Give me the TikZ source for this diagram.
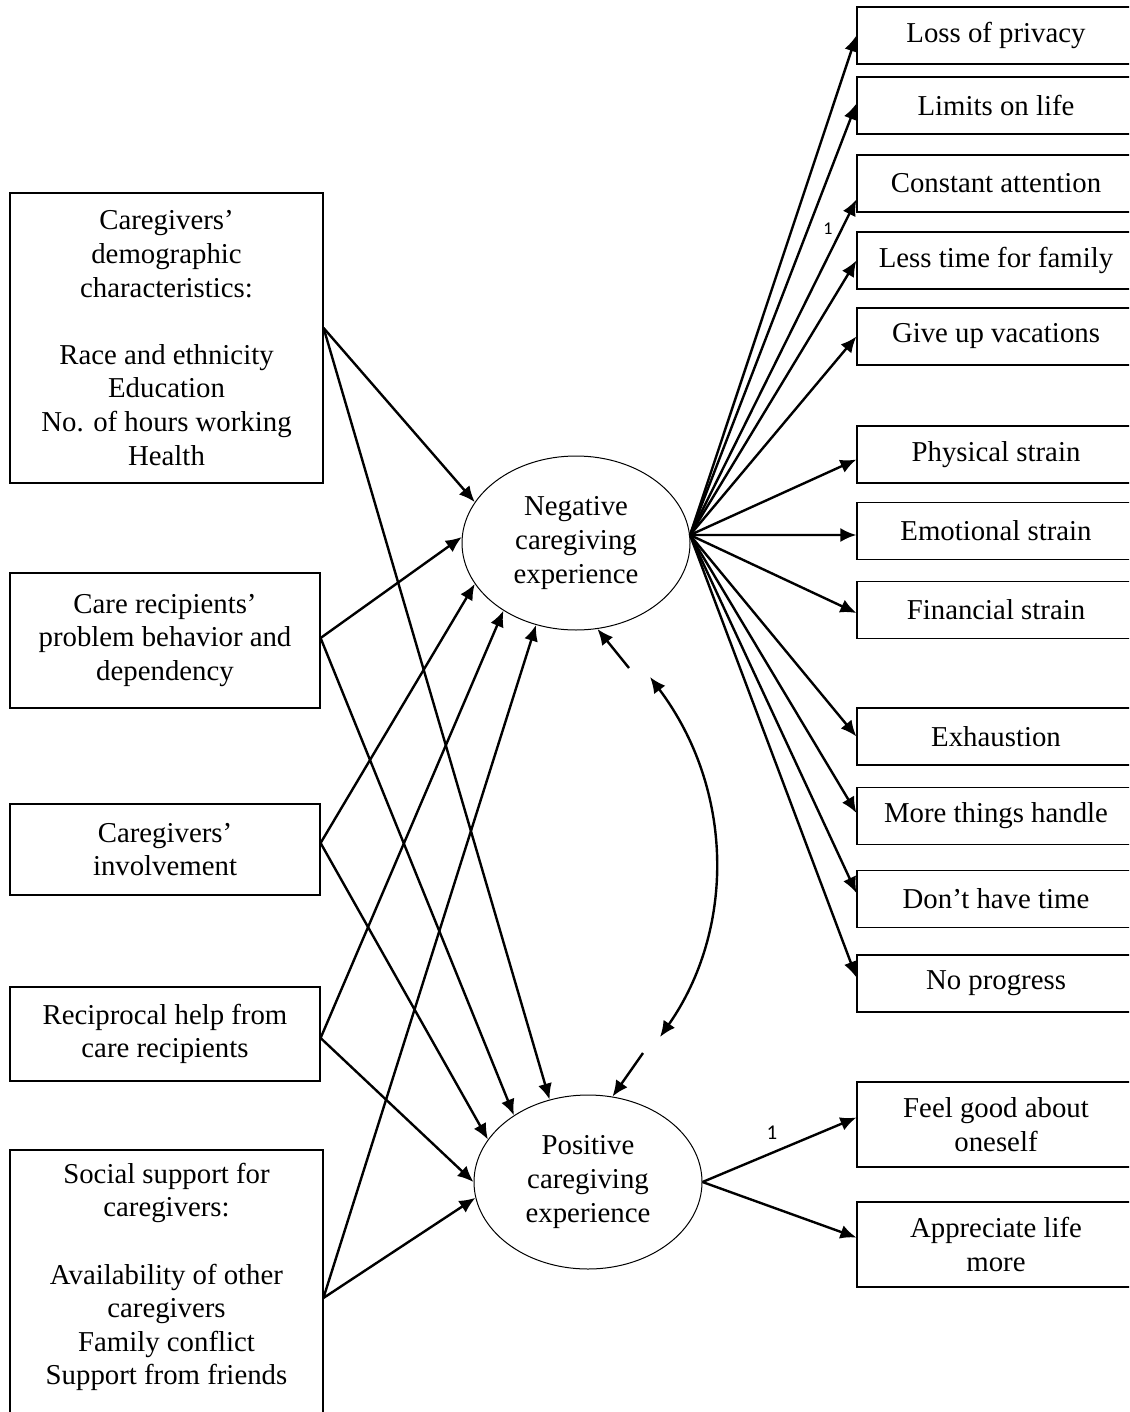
\documentclass[tikz,border=0pt]{standalone}
\usepackage{fontspec}
\setmainfont{Liberation Serif}
\newfontfamily\numfont{Carlito}
\usetikzlibrary{arrows.meta,shapes.geometric,calc}
\begin{document}
\begin{tikzpicture}[x=0.5pt,y=-0.5pt,
  every node/.style={font=\fontsize{14.4}{16.8}\selectfont},
  srcbox/.style={draw, line width=0.6pt, align=center, inner sep=0pt, minimum width=155pt},
  txtbox/.style={align=center, inner sep=0pt, minimum width=156.5pt},
  indbox/.style={draw, line width=0.6pt, align=center, inner sep=0pt, minimum width=139pt, minimum height=28.5pt},
  latent/.style={draw, ellipse, line width=0.5pt, align=center, inner sep=0pt, minimum width=114pt, minimum height=87pt},
  arr/.style={-{Latex[length=8pt,width=7pt]}, line width=1.2pt},
  darr/.style={{Latex[length=8pt,width=7pt]}-{Latex[length=8pt,width=7pt]}, line width=1.2pt},
  numlab/.style={inner sep=0pt}
]
\useasboundingbox (0,0) rectangle (1129,1412);
\clip (0,0) rectangle (1129,1412);
\fill[white] (0,0) rectangle (1129,1412);

% latent variables
\node[latent] (neg) at (576,543) {Negative\\caregiving\\experience};
\node[latent] (pos) at (588,1182) {Positive\\caregiving\\experience};

% left boxes
\node[srcbox, minimum width=156.5pt, minimum height=145pt] (b1) at (166.5,338)
  {Caregivers’\\demographic\\characteristics:\\[16.8pt]Race and ethnicity\\Education\\No. of hours working\\Health};
\node[srcbox, minimum height=67.5pt] (b2) at (165,640.5)
  {Care recipients’\\problem behavior and\\dependency};
\node[srcbox, minimum height=45.5pt] (b3) at (165,849.5)
  {Caregivers’\\involvement};
\node[srcbox, minimum height=47pt] (b4) at (165,1034)
  {Reciprocal help from\\care recipients};
\node[txtbox] (b5) at (166.5,1277)
  {Social support for\\caregivers:\\[16.8pt]Availability of other\\caregivers\\Family conflict\\Support from friends};
\draw[line width=0.6pt] (10,1440) -- (10,1150) -- (323,1150) -- (323,1440);

% right boxes
\node[indbox] (r1) at (996,35.5) {Loss of privacy};
\node[indbox] (r2) at (996,105.5) {Limits on life};
\node[indbox] (r3) at (996,183.5) {Constant attention};
\node[indbox] (r4) at (996,260.5) {Less time for family};
\node[indbox] (r5) at (996,336.5) {Give up vacations};
\node[indbox] (r6) at (996,454.5) {Physical strain};
\node[indbox] (r7) at (996,531) {Emotional strain};
\node[indbox] (r8) at (996,610) {Financial strain};
\node[indbox] (r9) at (996,736.5) {Exhaustion};
\node[indbox] (r10) at (996,816) {More things handle};
\node[indbox] (r11) at (996,899) {Don’t have time};
\node[indbox] (r12) at (996,983.5) {No progress};
\node[indbox, minimum height=42.5pt] (p1) at (996,1124.5) {Feel good about\\oneself};
\node[indbox, minimum height=42.5pt] (p2) at (996,1244.5) {Appreciate life\\more};

% source points on left boxes
\coordinate (s1) at (b1.east |- 0,328);
\coordinate (s2) at (b2.east |- 0,638);
\coordinate (s3) at (b3.east |- 0,843);
\coordinate (s4) at (b4.east |- 0,1038);
\coordinate (s5) at (b5.east |- 0,1298);

% paths to negative
\draw[arr] (s1) -- (neg.158.3);
\draw[arr] (s2) -- (neg.177);
\draw[arr] (s3) -- (neg.202.9);
\draw[arr] (s4) -- (neg.223.9);
\draw[arr] (s5) -- (neg.244.7);
% paths to positive
\draw[arr] (s1) -- (pos.115.2);
\draw[arr] (s2) -- (pos.138.6);
\draw[arr] (s3) -- (pos.157.4);
\draw[arr] (s4) -- (pos.180);
\draw[arr] (s5) -- (pos.188.9);

% indicators of negative
\coordinate (nout) at (neg.4);
\draw[arr] (nout) -- (r1.west);
\draw[arr] (nout) -- ([yshift=1pt]r2.west);
\draw[arr] (nout) -- ([yshift=-8pt]r3.west);
\draw[arr] (nout) -- (r4.west);
\draw[arr] (nout) -- (r5.west);
\draw[arr] (nout) -- ([yshift=-2.5pt]r6.west);
\draw[arr] (nout) -- ([yshift=-2pt]r7.west);
\draw[arr] (nout) -- ([yshift=-1.5pt]r8.west);
\draw[arr] (nout) -- (r9.west);
\draw[arr] (nout) -- ([yshift=1.5pt]r10.west);
\draw[arr] (nout) -- ([yshift=3pt]r11.west);
\draw[arr] (nout) -- ([yshift=3pt]r12.west);
% indicators of positive
\draw[arr] (pos.east) -- ([yshift=3.5pt]p1.west);
\draw[arr] (pos.east) -- ([yshift=3.5pt]p2.west);

% loading labels
\node[numlab, font=\numfont\fontsize{9}{10}\selectfont] (l1) at (828,229) {1};
\node[numlab, font=\numfont\fontsize{10.5}{12}\selectfont] (l2) at (772,1133) {1};

% covariance
\coordinate (ca1) at (629,668);
\draw[arr] (ca1) -- (neg.284.5);
\coordinate (cv1) at (650,677);
\coordinate (cv2) at (660,1037);
\draw[darr] (cv1) .. controls (735,790) and (735,930) .. (cv2);
\coordinate (ca2) at (643,1053);
\draw[arr] (ca2) -- (pos.74.6);
\end{tikzpicture}
\end{document}
